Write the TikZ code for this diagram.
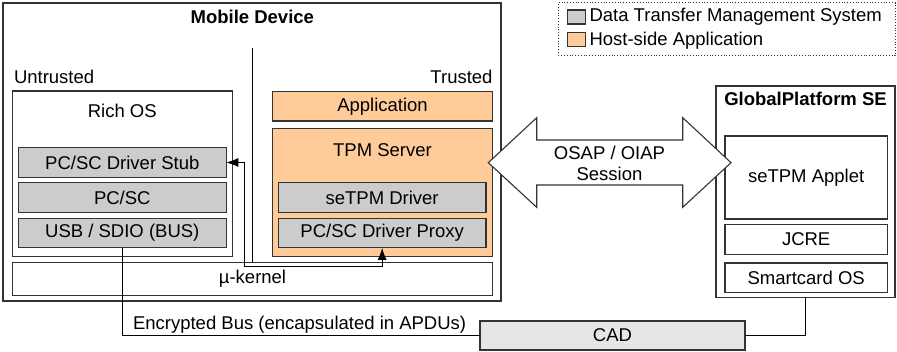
\documentclass[tikz,border=0pt]{standalone}
\usepackage{fontspec}
\setmainfont{Liberation Sans}
\usetikzlibrary{arrows.meta}
\definecolor{dtgray}{HTML}{CCCCCC}
\definecolor{hsorange}{HTML}{FFCC99}
\definecolor{cadgray}{HTML}{E6E6E6}
\definecolor{edge}{HTML}{333333}
\begin{document}
\begin{tikzpicture}[x=1pt,y=-1pt,
  every node/.style={font=\fontsize{18.5}{21}\selectfont, inner sep=0pt, outer sep=0pt},
  frame/.style={draw=edge, line width=1.1pt, fill=white},
  dtbox/.style={draw=edge, line width=1.1pt, fill=dtgray},
  hsbox/.style={draw=edge, line width=1.1pt, fill=hsorange},
  wire/.style={draw=black, line width=0.8pt},
  title/.style={font=\fontsize{18.5}{21}\selectfont\bfseries}]
\useasboundingbox (0,0) rectangle (897,352);

% Mobile device
\node[frame, minimum width=498pt, minimum height=298pt] (mobile) at (252,152) {};
\node[title] (mobiletitle) at (252.3,17) {Mobile Device};
\node[anchor=west] (untrusted) at (14,77) {Untrusted};
\node[anchor=east] (trusted) at (492.5,77) {Trusted};

% Rich OS side
\node[frame, minimum width=220pt, minimum height=165.7pt] (richos) at (122.3,173.85) {};
\node (richlabel) at (122.3,110.5) {Rich OS};
\node[dtbox, minimum width=208pt, minimum height=29.6pt] (stub) at (122.3,162.5) {PC/SC Driver Stub};
\node[dtbox, minimum width=208pt, minimum height=29.6pt] (pcsc) at (122.3,197.65) {PC/SC};
\node[dtbox, minimum width=208pt, minimum height=29.6pt] (usb) at (122.3,233.15) {USB / SDIO (BUS)};

% Trusted side
\node[hsbox, minimum width=220.4pt, minimum height=29.3pt] (app) at (382.5,106.35) {Application};
\node[hsbox, minimum width=220.4pt, minimum height=128.4pt] (tpm) at (382.5,192.5) {};
\node (tpmlabel) at (382.5,150.5) {TPM Server};
\node[dtbox, minimum width=207.7pt, minimum height=29.6pt] (setpmdrv) at (382.15,197.5) {seTPM Driver};
\node[dtbox, minimum width=207.7pt, minimum height=29.6pt] (proxy) at (382.15,233.15) {PC/SC Driver Proxy};

% kernel
\node[frame, minimum width=480.4pt, minimum height=32.6pt] (kernel) at (252.5,279) {µ-kernel};

% divider
\coordinate (dtop) at (252.3,48);
\draw[line width=1.1pt, black] (dtop) -- (dtop |- kernel.north);

% stub <-> proxy
\coordinate (bend) at (244.3,266.7);
\draw[wire, {Latex[length=12pt,width=9pt]}-{Latex[length=12pt,width=9pt]}] (stub.east) -| (bend) -| (proxy.south);

% Secure element
\node[frame, minimum width=179pt, minimum height=211.7pt] (se) at (805.5,191.85) {};
\node[title] (setitle) at (805.5,99) {GlobalPlatform SE};
\node[frame, minimum width=162.3pt, minimum height=83pt] (applet) at (806.15,177.5) {seTPM Applet};
\node[frame, minimum width=162.3pt, minimum height=30pt] (jcre) at (806.15,239.3) {JCRE};
\node[frame, minimum width=162.3pt, minimum height=29.7pt] (scos) at (806.15,277.85) {Smartcard OS};

% CAD
\node[draw=edge, line width=1.1pt, fill=cadgray, minimum width=265pt, minimum height=29pt] (cad) at (612.5,335.5) {CAD};
\draw[wire] (usb.south) |- (cad.west);
\node[anchor=west] (buslabel) at (133,324.5) {Encrypted Bus (encapsulated in APDUs)};
\draw[wire] (cad.east) -| (se.south);

% OSAP / OIAP session block arrow
\draw[draw=edge, line width=1.1pt, fill=white, line join=miter]
  (488.3,162.7) -- (536.7,117.7) -- (536.7,140) -- (682.7,140) -- (682.7,117.7)
  -- (731,162.7) -- (682.7,207.3) -- (682.7,185) -- (536.7,185) -- (536.7,207.3) -- cycle;
\node[align=center, font=\fontsize{18.5}{21}\selectfont] (osap) at (609.5,163) {OSAP / OIAP\\Session};

% Legend
\node[draw=edge, line width=0.8pt, dotted, minimum width=336.7pt, minimum height=53pt] (legend) at (726.65,29.2) {};
\node[dtbox, minimum width=18pt, minimum height=14pt] (legdt) at (576.3,17) {};
\node[hsbox, minimum width=18pt, minimum height=14pt] (leghs) at (576.3,39.8) {};
\node[anchor=west] (legdttext) at (589.5,17) {Data Transfer Management System};
\node[anchor=west] (leghstext) at (589.5,40.5) {Host-side Application};
\end{tikzpicture}
\end{document}
